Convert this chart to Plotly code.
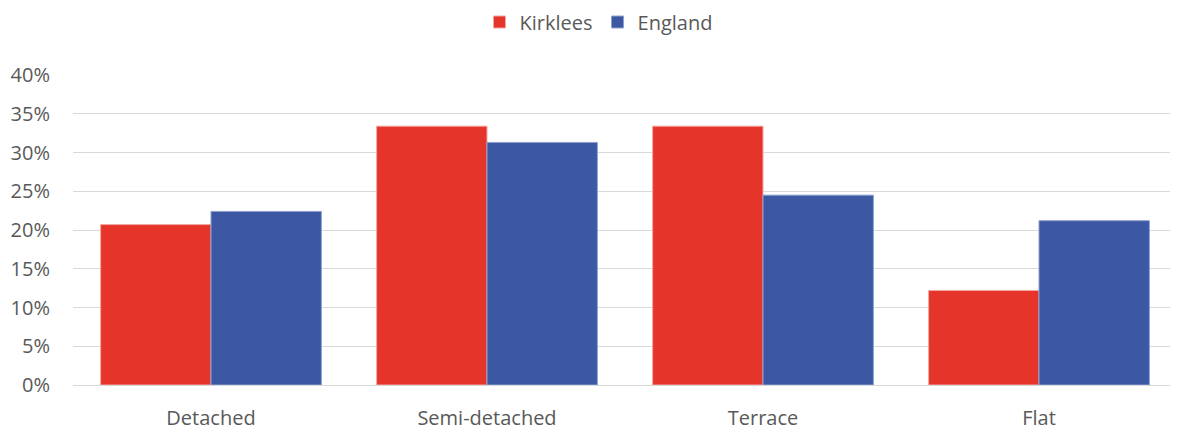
import plotly.graph_objects as go

categories = ["Detached", "Semi-detached", "Terrace", "Flat"]
kirklees = [0.207, 0.334, 0.334, 0.122]
england = [0.224, 0.313, 0.245, 0.212]
y_ticks = [0, 0.05, 0.10, 0.15, 0.20, 0.25, 0.30, 0.35, 0.40]
y_tick_labels = ["0%", "5%", "10%", "15%", "20%", "25%", "30%", "35%", "40%"]

RED = "#E5352A"
BLUE = "#3C58A3"
FONT = "'Open Sans', Lato, sans-serif"
FS = 20
GREY = "#595959"

fig = go.Figure()
fig.add_trace(go.Bar(x=categories, y=kirklees, name="Kirklees",
                     marker=dict(color=RED, line=dict(color="#F2A7A2", width=1))))
fig.add_trace(go.Bar(x=categories, y=england, name="England",
                     marker=dict(color=BLUE, line=dict(color="#8FA0D0", width=1))))

fig.update_layout(
    width=1170, height=424,
    margin=dict(l=65, r=1, t=67, b=45),
    paper_bgcolor="white", plot_bgcolor="white",
    barmode="group", bargap=0.2, bargroupgap=0,
    font=dict(family=FONT, size=FS, color=GREY),
    legend=dict(orientation="h", x=0.476, xanchor="center",
                y=1 - 14 / 424, yanchor="middle", yref="container",
                font=dict(size=FS, color=GREY),
                itemwidth=30, traceorder="normal"),
    showlegend=True,
)
fig.update_xaxes(showgrid=False, showline=False, ticks="", ticklabelstandoff=19,
                 tickfont=dict(size=FS, color=GREY))
fig.update_yaxes(range=[0, 0.4], tickvals=y_ticks, ticktext=y_tick_labels,
                 showgrid=True, gridcolor="#D9D9D9", gridwidth=1.4,
                 zeroline=True, zerolinecolor="#D9D9D9", zerolinewidth=1.4,
                 showline=False, ticks="", ticklabelstandoff=22,
                 tickfont=dict(size=FS, color=GREY))

fig.write_html("out.html")
